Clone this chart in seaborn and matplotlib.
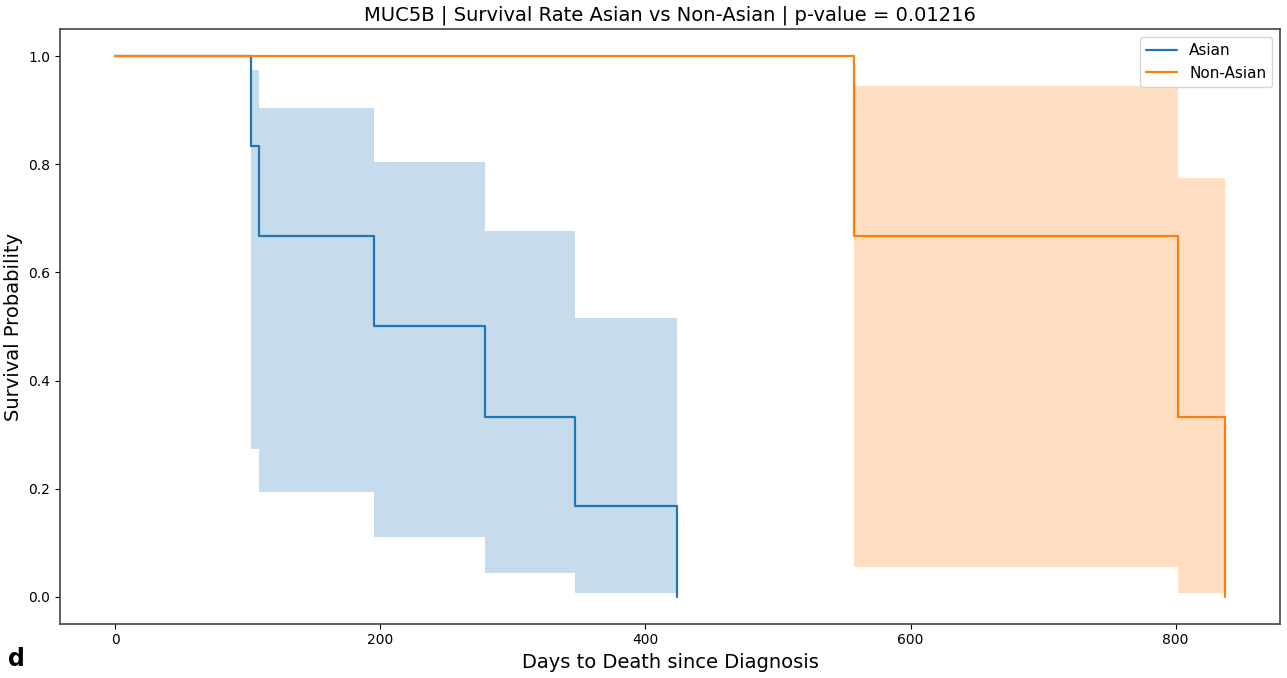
import seaborn as sns
import matplotlib.pyplot as plt
import pandas as pd

# Kaplan-Meier estimates
asian_days = [0, 102, 108, 195, 279, 347, 424]
asian_surv = [1.0, 0.833, 0.667, 0.5, 0.333, 0.167, 0.0]
asian_lo = [1.0, 0.274, 0.194, 0.111, 0.044, 0.007, 0.0]
asian_hi = [1.0, 0.975, 0.904, 0.804, 0.677, 0.516, 0.0]

nonasian_days = [0, 557, 802, 837]
nonasian_surv = [1.0, 0.667, 0.333, 0.0]
nonasian_lo = [1.0, 0.055, 0.007, 0.0]
nonasian_hi = [1.0, 0.945, 0.775, 0.0]

groups = ["Asian", "Non-Asian"]
colors = ["#1f77b4", "#ff7f0e"]

df = pd.concat([
    pd.DataFrame({"Days": asian_days, "Survival": asian_surv, "Group": "Asian"}),
    pd.DataFrame({"Days": nonasian_days, "Survival": nonasian_surv, "Group": "Non-Asian"}),
])

sns.set_style("white")
plt.rcParams.update({"text.color": "black", "axes.labelcolor": "black",
                     "xtick.color": "black", "ytick.color": "black"})
fig = plt.figure(figsize=(12.87, 6.78), dpi=100)
ax = fig.add_axes([0.0466, 0.080, 0.948, 0.877])

ax.fill_between(asian_days, asian_lo, asian_hi, step="post", color=colors[0], alpha=0.25, linewidth=0)
ax.fill_between(nonasian_days, nonasian_lo, nonasian_hi, step="post", color=colors[1], alpha=0.25, linewidth=0)

sns.lineplot(data=df, x="Days", y="Survival", hue="Group", palette=colors,
             drawstyle="steps-post", estimator=None, linewidth=1.6, ax=ax)

ax.set_xlim(-41.85, 878.85)
ax.set_ylim(-0.05, 1.05)
ax.set_xticks([0, 200, 400, 600, 800])
ax.set_yticks([0.0, 0.2, 0.4, 0.6, 0.8, 1.0])
ax.tick_params(axis="both", labelsize=10, length=3.5, left=True, bottom=True)
for s in ax.spines.values():
    s.set_color("#444444")
    s.set_linewidth(1.2)

ax.set_xlabel("Days to Death since Diagnosis", fontsize=14)
ax.set_ylabel("Survival Probability", fontsize=14)
ax.set_title("MUC5B | Survival Rate Asian vs Non-Asian | p-value = 0.01216", fontsize=14)
ax.legend(title=None, loc="upper right", fontsize=11)

fig.text(0.006, 0.018, "d", fontsize=17, fontweight="bold")

fig.savefig("out.png", dpi=100)
